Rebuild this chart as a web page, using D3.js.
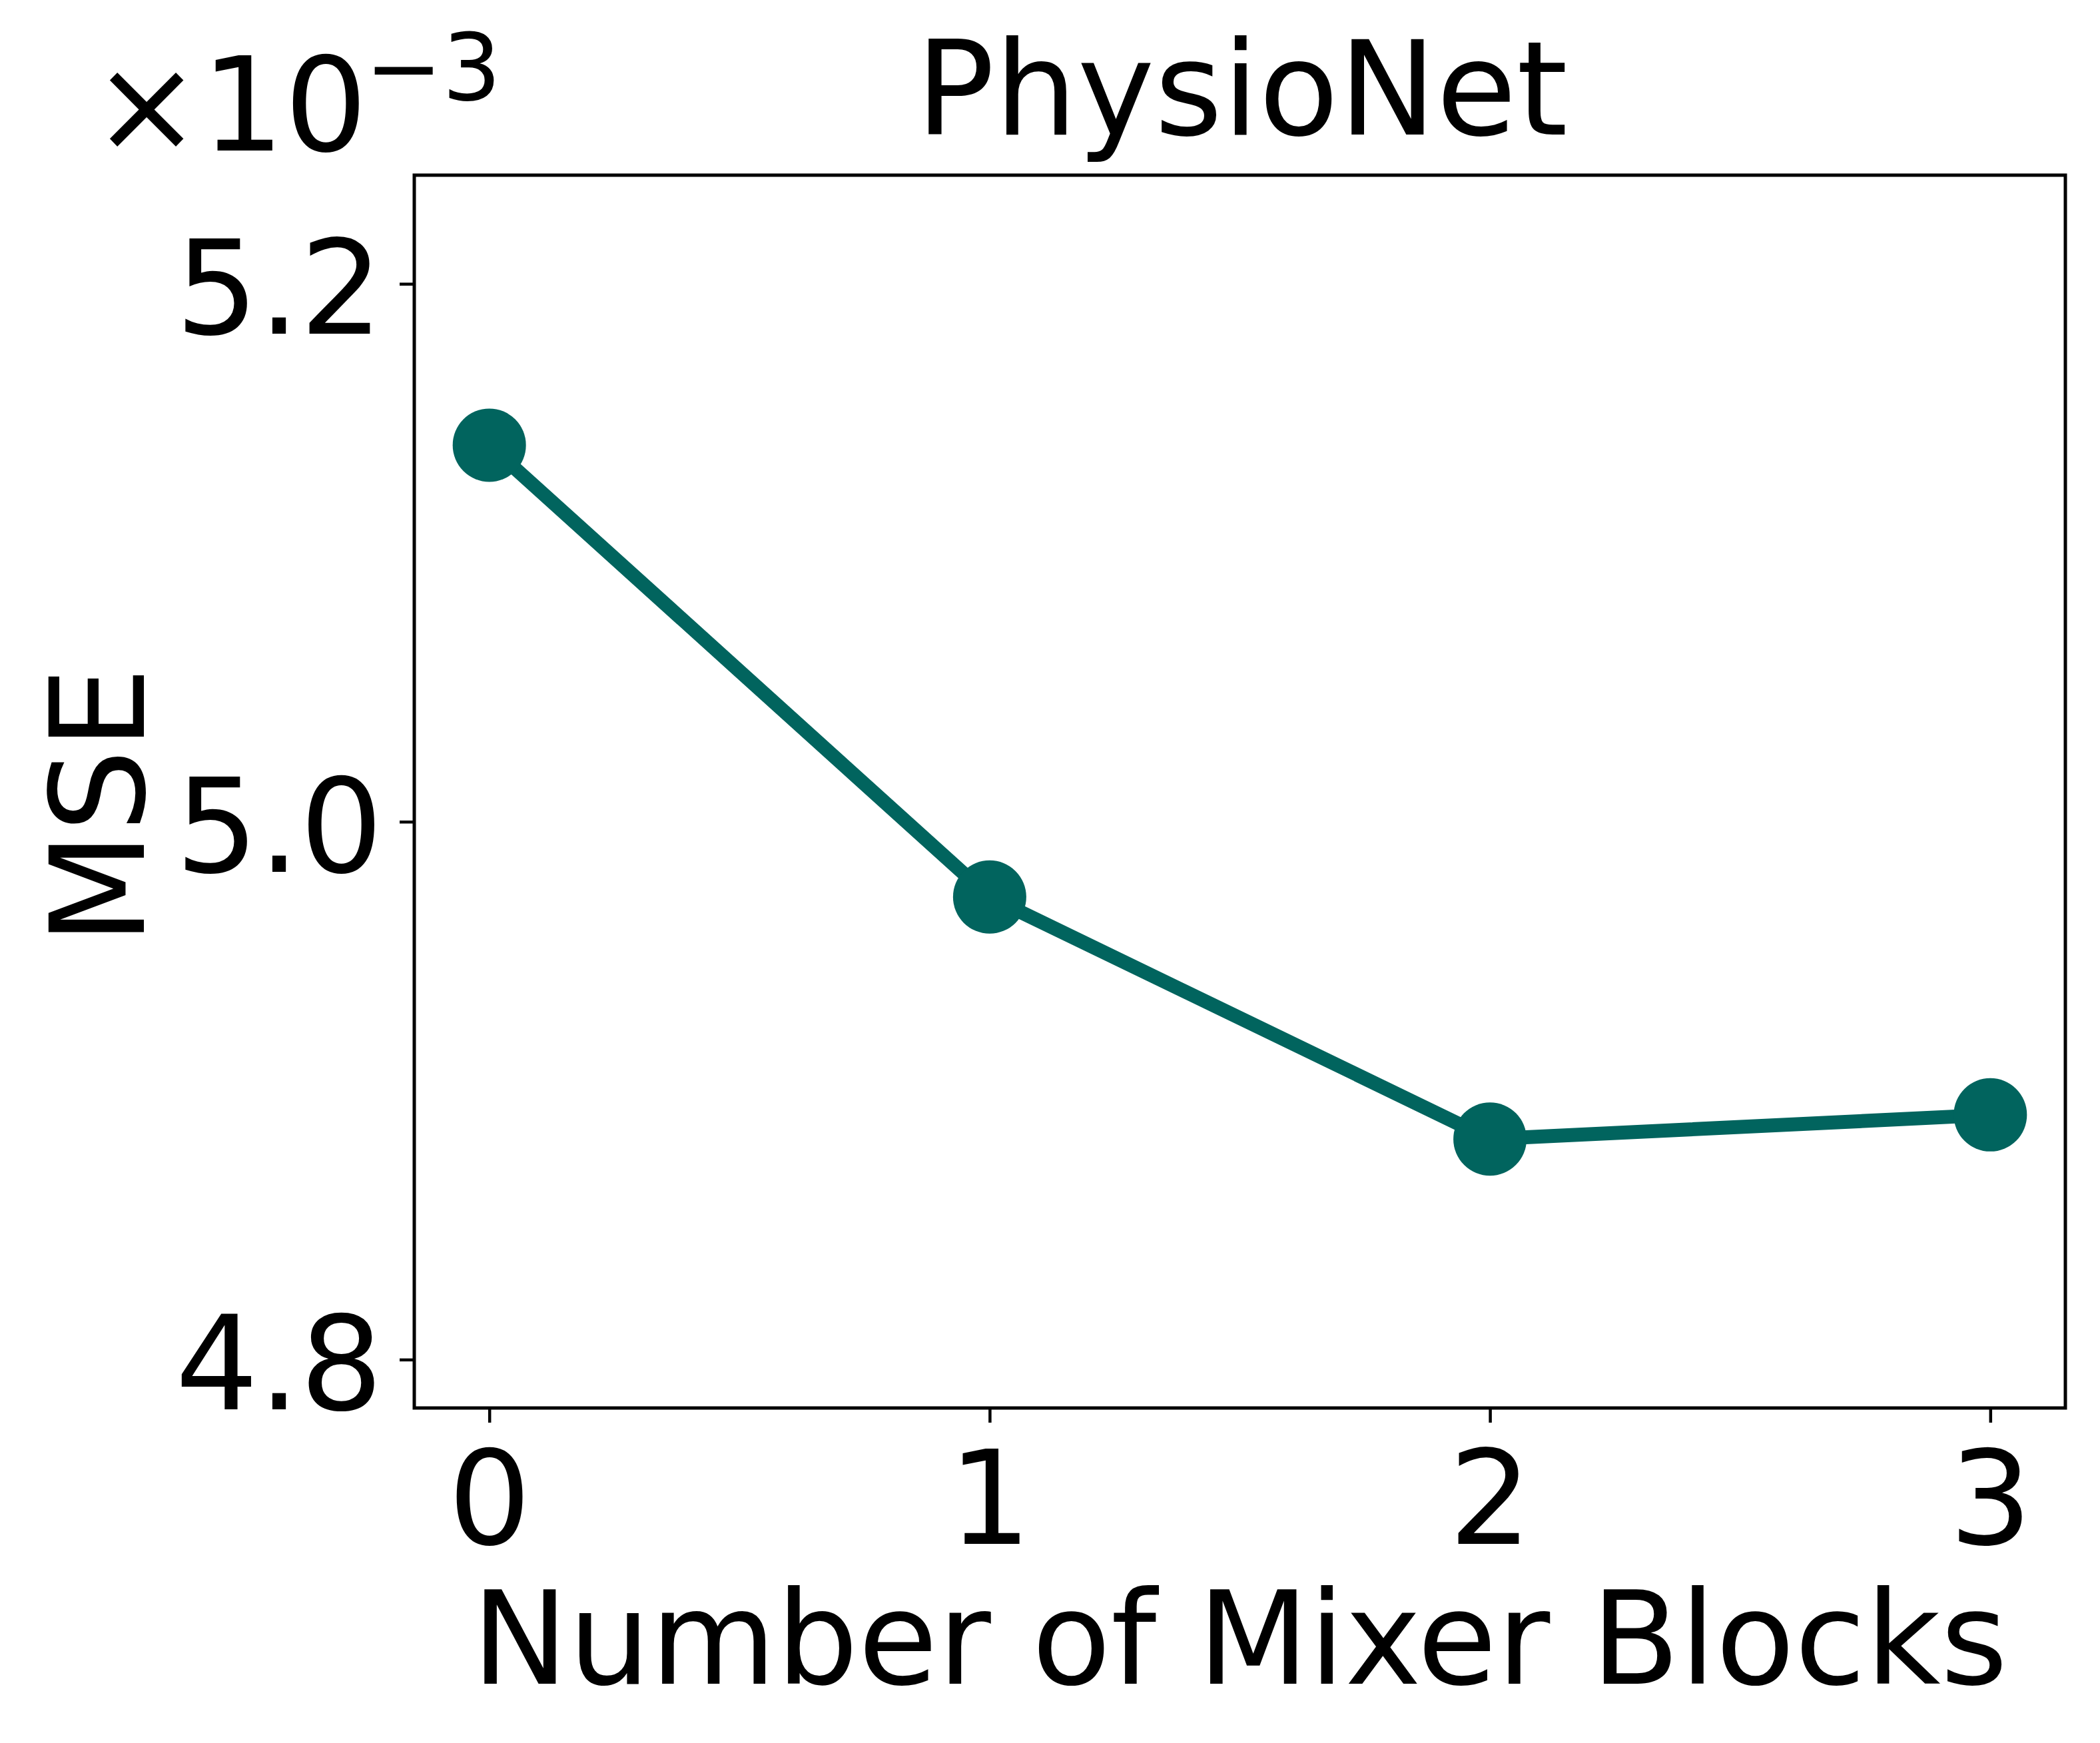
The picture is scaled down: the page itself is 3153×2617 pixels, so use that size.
<!DOCTYPE html>
<html>
<head>
<meta charset="utf-8">
<script src="https://cdn.jsdelivr.net/npm/d3@7"></script>
<style>
  html, body { margin: 0; padding: 0; background: #ffffff; }
  svg { display: block; }
  text { font-family: "DejaVu Sans", sans-serif; fill: #000; }
</style>
</head>
<body>
<script>
// ---- data (MSE in units of 1e-3) ----
const blocks = [0, 1, 2, 3];
const mseValues = [5.140, 4.972, 4.882, 4.891];
const yTickValues = [4.8, 5.0, 5.2];
const xTickValues = [0, 1, 2, 3];
const titleText = "PhysioNet";
const xLabelText = "Number of Mixer Blocks";
const yLabelText = "MSE";

(function () {
  // ---- layout ----
  const W = 3153, H = 2617;
  const pLeft = 622, pRight = 3101, pTop = 263, pBottom = 2114;
  const fs = 196;
  const color = "#01645E";

  const svg = d3.select("body").append("svg")
    .attr("width", W).attr("height", H)
    .attr("viewBox", `0 0 ${W} ${H}`);
  svg.append("rect").attr("width", W).attr("height", H).attr("fill", "#fff");

  const x = d3.scaleLinear().domain([-0.15, 3.15]).range([pLeft, pRight]);
  const y = d3.scaleLinear().domain([4.782, 5.2404]).range([pBottom, pTop]);

  // y axis
  const yAxis = svg.append("g")
    .attr("transform", `translate(${pLeft},0)`)
    .call(d3.axisLeft(y).tickValues(yTickValues).tickFormat(d3.format(".1f")).tickSize(22).tickPadding(25));
  yAxis.select(".domain").remove();
  yAxis.selectAll(".tick line").attr("stroke", "#000").attr("stroke-width", 4.5);
  yAxis.selectAll(".tick text").attr("font-size", fs).attr("dy", "0.38em")
    .attr("font-family", "DejaVu Sans").attr("fill", "#000");

  // x axis
  const xAxis = svg.append("g")
    .attr("transform", `translate(0,${pBottom})`)
    .call(d3.axisBottom(x).tickValues(xTickValues).tickFormat(d3.format("d")).tickSize(22).tickPadding(22));
  xAxis.select(".domain").remove();
  xAxis.selectAll(".tick line").attr("stroke", "#000").attr("stroke-width", 4.5);
  xAxis.selectAll(".tick text").attr("font-size", fs).attr("y", 204).attr("dy", 0)
    .attr("font-family", "DejaVu Sans").attr("fill", "#000");

  // line
  const pts = blocks.map((b, i) => [b, mseValues[i]]);
  svg.append("path")
    .datum(pts)
    .attr("fill", "none")
    .attr("stroke", color)
    .attr("stroke-width", 21)
    .attr("stroke-linejoin", "round")
    .attr("d", d3.line().x(d => x(d[0])).y(d => y(d[1])));

  svg.selectAll("circle.pt")
    .data(pts)
    .enter().append("circle")
    .attr("class", "pt")
    .attr("cx", d => x(d[0]))
    .attr("cy", d => y(d[1]))
    .attr("r", 55)
    .attr("fill", color);

  // frame
  svg.append("rect")
    .attr("x", pLeft).attr("y", pTop)
    .attr("width", pRight - pLeft).attr("height", pBottom - pTop)
    .attr("fill", "none").attr("stroke", "#000").attr("stroke-width", 5);

  // title
  svg.append("text")
    .attr("x", (pLeft + pRight) / 2 + 3).attr("y", 202)
    .attr("text-anchor", "middle").attr("font-size", fs)
    .text(titleText);

  // x label
  svg.append("text")
    .attr("x", (pLeft + pRight) / 2).attr("y", 2528)
    .attr("text-anchor", "middle").attr("font-size", 194)
    .text(xLabelText);

  // y label
  svg.append("text")
    .attr("transform", `translate(216,1210) rotate(-90)`)
    .attr("text-anchor", "middle").attr("font-size", fs)
    .text(yLabelText);

  // offset text ×10^-3
  const off = svg.append("text")
    .attr("x", 138).attr("y", 226)
    .attr("font-size", fs);
  off.append("tspan").text("\u00D710");
  off.append("tspan").attr("font-size", 139).attr("dy", -76).attr("dx", -4).text("\u22123");
})();
</script>
</body>
</html>
